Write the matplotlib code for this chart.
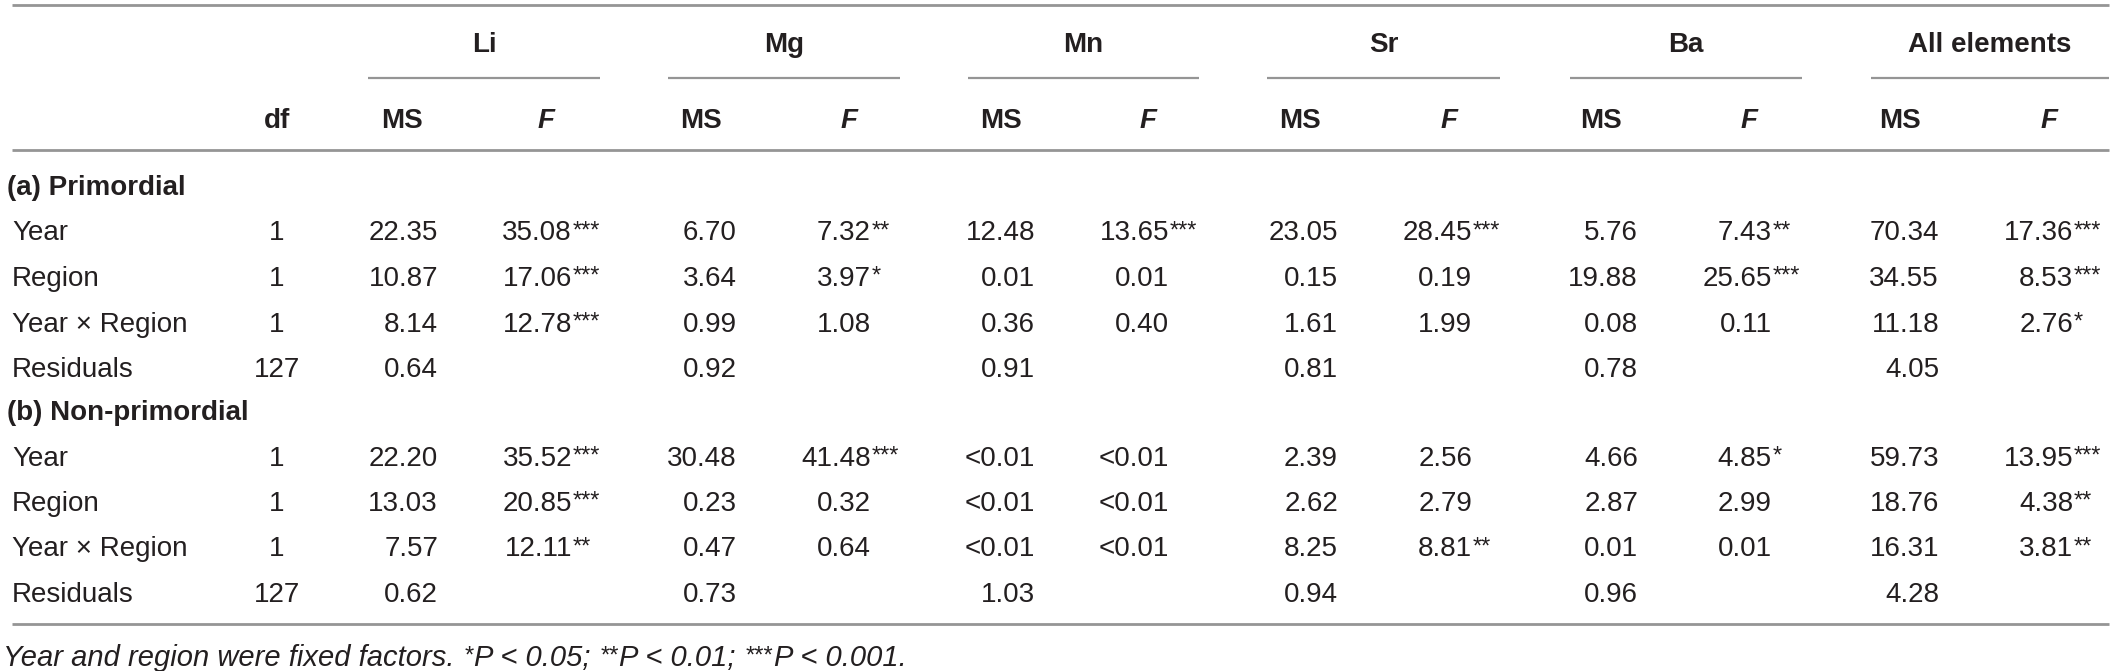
import matplotlib
matplotlib.use("Agg")
import matplotlib.pyplot as plt

plt.rcParams['font.family'] = ['Liberation Sans', 'DejaVu Sans']

# table content
elements = ["Li", "Mg", "Mn", "Sr", "Ba", "All elements"]
terms = ["Year", "Region", "Year \u00d7 Region", "Residuals"]
df_vals = ["1", "1", "1", "127"]

# (a) primordial, one list per element, one entry per term
ms_prim = [
    ["22.35", "10.87", "8.14", "0.64"],
    ["6.70", "3.64", "0.99", "0.92"],
    ["12.48", "0.01", "0.36", "0.91"],
    ["23.05", "0.15", "1.61", "0.81"],
    ["5.76", "19.88", "0.08", "0.78"],
    ["70.34", "34.55", "11.18", "4.05"],
]
f_prim = [
    ["35.08***", "17.06***", "12.78***", ""],
    ["7.32**", "3.97*", "1.08", ""],
    ["13.65***", "0.01", "0.40", ""],
    ["28.45***", "0.19", "1.99", ""],
    ["7.43**", "25.65***", "0.11", ""],
    ["17.36***", "8.53***", "2.76*", ""],
]

# (b) non-primordial
ms_nonprim = [
    ["22.20", "13.03", "7.57", "0.62"],
    ["30.48", "0.23", "0.47", "0.73"],
    ["<0.01", "<0.01", "<0.01", "1.03"],
    ["2.39", "2.62", "8.25", "0.94"],
    ["4.66", "2.87", "0.01", "0.96"],
    ["59.73", "18.76", "16.31", "4.28"],
]
f_nonprim = [
    ["35.52***", "20.85***", "12.11**", ""],
    ["41.48***", "0.32", "0.64", ""],
    ["<0.01", "<0.01", "<0.01", ""],
    ["2.56", "2.79", "8.81**", ""],
    ["4.85*", "2.99", "0.01", ""],
    ["13.95***", "4.38**", "3.81**", ""],
]

sections = ["(a) Primordial", "(b) Non-primordial"]

# layout (pixels)
W, H = 2114, 671
fs = 20
fs_bold = 20
star_fs = 17
foot_fs = 21
txt = "#231f20"
rule = "#959595"
ms_right = [438, 737, 1035, 1338, 1638, 1939]
f_right = [572, 871, 1169, 1472, 1772, 2073]
ms_head = [402, 701, 1001, 1300, 1601, 1900]
f_head = [546, 849, 1148, 1449, 1749, 2049]
ul_span = [(368, 600), (668, 900), (968, 1199), (1267, 1500), (1570, 1802), (1871, 2109)]
df_x = 277
cap = 10  # half cap height in px, row centre -> baseline

fig = plt.figure(figsize=(W / 100, H / 100), dpi=100)
ax = fig.add_axes([0, 0, 1, 1])
ax.set_xlim(0, W)
ax.set_ylim(H, 0)
ax.axis("off")


def hline(y, x0=12, x1=2109, lw=2.0):
    ax.plot([x0, x1], [y, y], color=rule, lw=lw, solid_capstyle="butt")


def cell(x_right, y, s):
    # number right aligned (= decimal aligned), stars hang after it
    num = s.rstrip("*")
    stars = s[len(num):]
    ax.text(x_right, y + cap, num, ha="right", va="baseline", fontsize=fs, color=txt)
    if stars:
        ax.text(x_right + 1, y + cap - 3, stars, ha="left", va="baseline", fontsize=star_fs, color=txt)


# rules
hline(5)
hline(150)
hline(624)
for x0, x1 in ul_span:
    hline(78, x0, x1, lw=1.6)

# header
for i, el in enumerate(elements):
    xc = (ul_span[i][0] + ul_span[i][1]) / 2
    ax.text(xc, 42 + cap, el, ha="center", va="baseline", fontsize=fs_bold, fontweight="bold", color=txt)
    ax.text(ms_head[i], 118 + cap, "MS", ha="center", va="baseline", fontsize=fs_bold, fontweight="bold", color=txt)
    ax.text(f_head[i], 118 + cap, "F", ha="center", va="baseline", fontsize=fs_bold, fontweight="bold",
            fontstyle="italic", color=txt)
ax.text(df_x, 118 + cap, "df", ha="center", va="baseline", fontsize=fs_bold, fontweight="bold", color=txt)

# body
sec_y = [185, 410]
for s, (name, ms_tab, f_tab) in enumerate(zip(sections, [ms_prim, ms_nonprim], [f_prim, f_nonprim])):
    y0 = sec_y[s]
    ax.text(7, y0 + cap, name, ha="left", va="baseline", fontsize=fs_bold, fontweight="bold", color=txt)
    for r, term in enumerate(terms):
        y = y0 + 45.5 * (r + 1)
        ax.text(12, y + cap, term, ha="left", va="baseline", fontsize=fs, color=txt)
        ax.text(df_x, y + cap, df_vals[r], ha="center", va="baseline", fontsize=fs, color=txt)
        for i in range(len(elements)):
            cell(ms_right[i], y, ms_tab[i][r])
            if f_tab[i][r]:
                cell(f_right[i], y, f_tab[i][r])

# footnote, italic with superscript stars
fig.canvas.draw()
renderer = fig.canvas.get_renderer()
pieces = [("Year and region were fixed factors.", False), (" ", None), ("*", True), ("P < 0.05;", False),
          (" ", None), ("**", True), ("P < 0.01;", False), (" ", None), ("***", True), ("P < 0.001.", False)]
x = 3
base = 666
inv = ax.transData.inverted()
for s, sup in pieces:
    if sup is None:
        x += foot_fs * 100 / 72 * 0.28
        continue
    t = ax.text(x, base - (3 if sup else 0), s, ha="left", va="baseline",
                fontsize=star_fs if sup else foot_fs, fontstyle="italic", color=txt)
    bb = t.get_window_extent(renderer)
    x0d = inv.transform((bb.x0, bb.y0))[0]
    x1d = inv.transform((bb.x1, bb.y0))[0]
    x += (x1d - x0d) + 1

fig.savefig("out.png", dpi=100)
